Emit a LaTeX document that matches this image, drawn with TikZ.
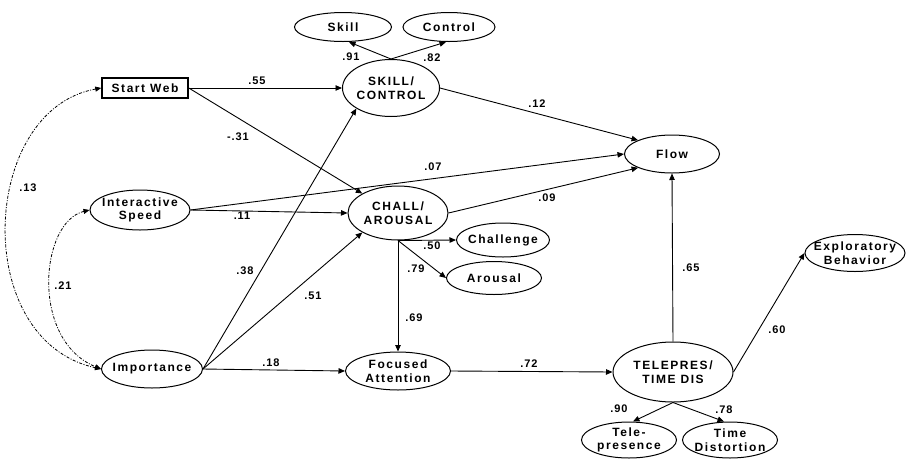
\documentclass[tikz,border=0pt]{standalone}
\usepackage{fontspec}
\setmainfont{Liberation Sans}
\newfontfamily\lblfont[LetterSpace=13]{Liberation Sans}
\newfontfamily\numfont[LetterSpace=8]{Liberation Sans}
\usetikzlibrary{shapes.geometric,arrows.meta,calc}
\begin{document}
\begin{tikzpicture}[x=1pt,y=-1pt,
  lat/.style={ellipse,draw,line width=1pt,inner xsep=-14pt,inner ysep=-8pt,align=center,
    font=\lblfont\bfseries\fontsize{12}{13.5}\selectfont},
  obs/.style={rectangle,draw,line width=1.5pt,inner sep=-4pt,
    font=\lblfont\bfseries\fontsize{12}{13.5}\selectfont},
  arr/.style={-{Triangle[length=6.5pt,width=5.5pt]},line width=0.9pt},
  cov/.style={{Triangle[length=6pt,width=5pt]}-{Triangle[length=6pt,width=5pt]},line width=0.8pt,dash pattern=on 3pt off 1.5pt on 1pt off 1.5pt},
  wt/.style={font=\numfont\bfseries\fontsize{11}{12}\selectfont,inner sep=0pt}]
\useasboundingbox (0,0) rectangle (906,459);
% nodes
\node[obs,minimum width=86pt,minimum height=20pt] (sw) at (145,88) {Start Web};
\node[lat,minimum width=100pt,minimum height=40pt] (is) at (140,210) {Interactive\\Speed};
\node[lat,minimum width=101pt,minimum height=38pt] (imp) at (152,369) {Importance};
\node[lat,minimum width=97pt,minimum height=29pt] (skill) at (343,27) {Skill};
\node[lat,minimum width=92pt,minimum height=29pt] (ctrl) at (449,27) {Control};
\node[lat,minimum width=97pt,minimum height=57pt] (sc) at (391,88) {SKILL/\\CONTROL};
\node[lat,minimum width=100pt,minimum height=54pt] (ch) at (398,213) {CHALL/\\AROUSAL};
\node[lat,minimum width=95pt,minimum height=38pt] (flow) at (672,154) {Flow};
\node[lat,minimum width=93pt,minimum height=34pt] (chal) at (503,240) {Challenge};
\node[lat,minimum width=95pt,minimum height=33pt] (arou) at (494,278) {Arousal};
\node[lat,minimum width=105pt,minimum height=38pt] (fa) at (398,371) {Focused\\Attention};
\node[lat,minimum width=120pt,minimum height=60pt] (tp) at (673,372) {TELEPRES/\\TIME DIS};
\node[lat,minimum width=100pt,minimum height=37pt] (eb) at (855,253) {Exploratory\\Behavior};
\node[lat,minimum width=95pt,minimum height=36pt] (tele) at (629,440) {Tele-\\presence};
\node[lat,minimum width=95pt,minimum height=36pt] (td) at (730,440) {Time\\Distortion};
% structural paths
\draw[arr] (sw.east) -- (sc.west);
\draw[arr] (sw.east) -- (ch.north west);
\draw[arr] (sc.north) -- ($(skill.south)+(6,0)$);
\draw[arr] (sc.north) -- ($(ctrl.south)+(-3,0)$);
\draw[arr] (sc.east) -- (flow.north west);
\draw[arr] (is.east) -- (flow.west);
\draw[arr] (is.east) -- (ch.west);
\draw[arr] (ch.east) -- (flow.south west);
\draw[arr] (ch.south) -- (chal.west);
\draw[arr] (ch.south) -- (arou.west);
\draw[arr] (ch.south) -- (fa.north);
\draw[arr] (imp.east) -- (sc.south west);
\draw[arr] (imp.east) -- (ch.south west);
\draw[arr] (imp.east) -- (fa.west);
\draw[arr] (fa.east) -- (tp.west);
\draw[arr] (tp.north) -- (flow.south);
\draw[arr] (tp.east) -- (eb.west);
\draw[arr] (tp.south) -- ($(tele.north)+(4,0)$);
\draw[arr] (tp.south) -- ($(td.north)+(-6,0)$);
% covariances
\draw[cov] (sw.west) .. controls (-20,110) and (-30,340) .. (imp.west);
\draw[cov] (is.west) .. controls (40,222) and (30,340) .. (imp.west);
% weights
\node[wt] (l1) at (257,81) {.55};
\node[wt] (l2) at (238,137) {-.31};
\node[wt] (l3) at (351,57) {.91};
\node[wt] (l4) at (432,58) {.82};
\node[wt] (l5) at (537,104) {.12};
\node[wt] (l6) at (433,167) {.07};
\node[wt] (l7) at (28,188) {.13};
\node[wt] (l8) at (242,216) {.11};
\node[wt] (l9) at (547,198) {.09};
\node[wt] (l10) at (432,246) {.50};
\node[wt] (l11) at (416,269) {.79};
\node[wt] (l12) at (63,286) {.21};
\node[wt] (l13) at (245,271) {.38};
\node[wt] (l14) at (313,296) {.51};
\node[wt] (l15) at (414,318) {.69};
\node[wt] (l16) at (271,363) {.18};
\node[wt] (l17) at (529,364) {.72};
\node[wt] (l18) at (691,268) {.65};
\node[wt] (l19) at (777,330) {.60};
\node[wt] (l20) at (619,409) {.90};
\node[wt] (l21) at (724,410) {.78};
\end{tikzpicture}
\end{document}
